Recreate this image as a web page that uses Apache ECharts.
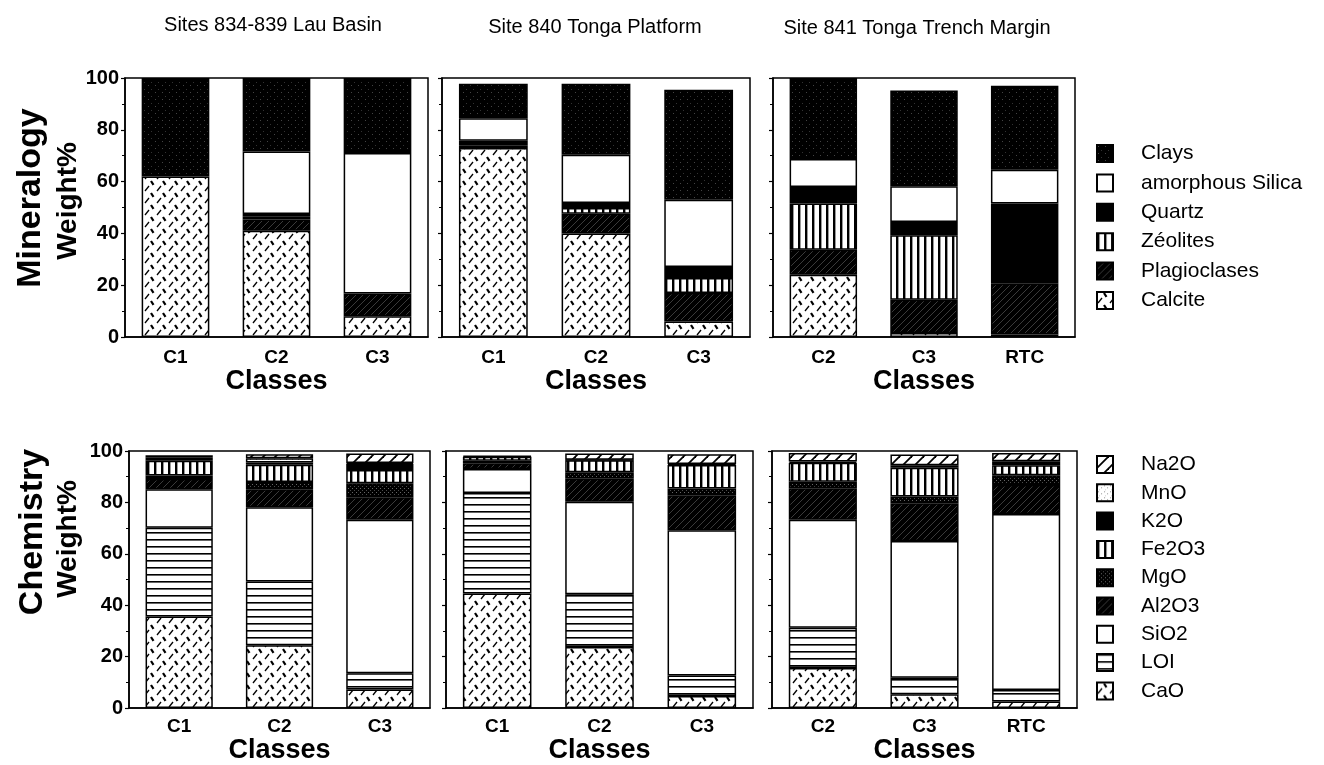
<!DOCTYPE html>
<html>
<head>
<meta charset="utf-8">
<script src="https://cdn.jsdelivr.net/npm/echarts@6/dist/echarts.min.js"></script>
<style>
  html, body { margin: 0; padding: 0; background: #fff; }
  #chart { width: 1324px; height: 765px; }
</style>
</head>
<body>
<div id="chart"></div>
<script>
// Site headings, one per column of panels
const siteTitles = ['Sites 834-839 Lau Basin', 'Site 840 Tonga Platform', 'Site 841 Tonga Trench Margin'];

// Sediment classes sampled at each site
const lauClasses = ['C1', 'C2', 'C3'];
const platformClasses = ['C1', 'C2', 'C3'];
const trenchClasses = ['C2', 'C3', 'RTC'];

// Stack order, bottom to top
const mineralNames = ['Calcite', 'Plagioclases', 'Zéolites', 'Quartz', 'amorphous Silica', 'Clays'];
const oxideNames = ['CaO', 'LOI', 'SiO2', 'Al2O3', 'MgO', 'Fe2O3', 'K2O', 'MnO', 'Na2O'];

// Y axis: weight percent
const weightMax = 100;
const weightStep = 20;

// Mineralogy, weight % — rows follow mineralNames, columns follow the class lists
const lauMineralogy = [
  [62, 41, 8],
  [0, 4.4, 8.8],
  [0, 1, 0],
  [0, 1.1, 0],
  [0, 24.1, 54.2],
  [38, 28.4, 29]
];
const platformMineralogy = [
  [73, 40, 6],
  [1, 7.6, 11],
  [0, 2.2, 5.8],
  [1.8, 1.9, 4.2],
  [8.7, 18.7, 26],
  [13.3, 27.4, 42.5]
];
const trenchMineralogy = [
  [24, 1.5, 1],
  [9.7, 12.9, 19.6],
  [17.8, 24.9, 0],
  [6.4, 5.1, 30.9],
  [10.8, 13.8, 13.1],
  [31.3, 37, 32.4]
];

// Chemistry, weight % — rows follow oxideNames, columns follow the class lists
const lauChemistry = [
  [35.6, 24.4, 7.2],
  [34.5, 24.8, 6.4],
  [15, 28.9, 59.7],
  [4, 7, 8.7],
  [1.4, 2.8, 5.5],
  [5.7, 6.8, 5.1],
  [0, 0.8, 2.4],
  [1.2, 1.7, 0.3],
  [0.9, 1.5, 3.7]
];
const platformChemistry = [
  [44.6, 23.8, 4.7],
  [39.1, 20.5, 8],
  [9.3, 36, 56.5],
  [2.2, 8.9, 13.6],
  [1, 2.5, 2.6],
  [1.6, 4.7, 9.2],
  [0.3, 0, 0.3],
  [0, 0.2, 0],
  [0, 2.4, 3.8]
];
const trenchChemistry = [
  [15.6, 5.4, 2.6],
  [15.7, 6.4, 4.4],
  [42, 53.2, 68.5],
  [12.2, 14.7, 11.3],
  [2.5, 2.6, 3.8],
  [7.4, 11.2, 3.9],
  [0.5, 1, 1.5],
  [0, 0, 0],
  [3.3, 4.1, 3.2]
];

// ---- fill patterns (black & white print style) ----
function tile(w, h, bg, paint) {
  const c = document.createElement('canvas');
  c.width = w; c.height = h;
  const ctx = c.getContext('2d');
  ctx.fillStyle = bg;
  ctx.fillRect(0, 0, w, h);
  ctx.strokeStyle = '#000';
  ctx.fillStyle = '#000';
  if (paint) paint(ctx, w, h);
  return { image: c, repeat: 'repeat' };
}
function seg(ctx, x1, y1, x2, y2, lw, color) {
  ctx.beginPath();
  ctx.lineWidth = lw;
  if (color) ctx.strokeStyle = color;
  ctx.moveTo(x1, y1); ctx.lineTo(x2, y2);
  ctx.stroke();
}
function diag(ctx, w, lw, color) {
  // "/" lines that join seamlessly across tiles
  seg(ctx, -1, w + 1, w + 1, -1, lw, color);
  seg(ctx, -1, 1, 1, -1, lw, color);
  seg(ctx, w - 1, w + 1, w + 1, w - 1, lw, color);
}
const fills = {
  calcite: tile(12, 12, '#fff', ctx => {
    seg(ctx, 1, 11, 5, 6, 1.3);
    seg(ctx, 7, 1, 9.5, 4.8, 2.2);
  }),
  plag: tile(7, 7, '#000', (ctx, w) => diag(ctx, w, 0.8, '#4a4a4a')),
  stripes: tile(7, 7, '#fff', ctx => ctx.fillRect(0, 0, 2.4, 7)),
  black: '#000',
  white: '#fff',
  clay: tile(7, 7, '#000', ctx => {
    ctx.fillStyle = '#444'; ctx.fillRect(1, 1, 1, 1);
    ctx.fillStyle = '#333'; ctx.fillRect(4, 5, 1, 1);
  }),
  loi: tile(8, 7, '#fff', ctx => ctx.fillRect(0, 0, 8, 1.6)),
  mgo: tile(4, 4, '#000', ctx => {
    ctx.fillStyle = '#666'; ctx.fillRect(0, 0, 1, 1);
    ctx.fillStyle = '#4a4a4a'; ctx.fillRect(2, 2, 1, 1);
  }),
  mno: tile(6, 6, '#fff', ctx => {
    ctx.fillStyle = '#999'; ctx.fillRect(1, 1, 1, 1); ctx.fillRect(4, 3, 1, 1);
    ctx.fillStyle = '#ccc'; ctx.fillRect(2, 5, 1, 1);
  }),
  na2o: tile(12, 12, '#fff', (ctx, w) => diag(ctx, w, 1.8, '#000'))
};
const mineralFills = [fills.calcite, fills.plag, fills.stripes, fills.black, fills.white, fills.clay];
const oxideFills = [fills.calcite, fills.loi, fills.white, fills.plag, fills.mgo, fills.stripes, fills.black, fills.mno, fills.na2o];

// ---- layout ----
const FONT = '"Liberation Sans", Arial, Helvetica, sans-serif';
const panels = [
  { grid: { left: 125, top: 78, width: 303, height: 259 }, classes: lauClasses, values: lauMineralogy, names: mineralNames, fills: mineralFills, labels: true, labelMargin: 11, nameGap: 30 },
  { grid: { left: 442, top: 78, width: 308, height: 259 }, classes: platformClasses, values: platformMineralogy, names: mineralNames, fills: mineralFills, labels: false, labelMargin: 11, nameGap: 30 },
  { grid: { left: 773, top: 78, width: 302, height: 259 }, classes: trenchClasses, values: trenchMineralogy, names: mineralNames, fills: mineralFills, labels: false, labelMargin: 11, nameGap: 30 },
  { grid: { left: 129, top: 451, width: 301, height: 261 }, classes: lauClasses, values: lauChemistry, names: oxideNames, fills: oxideFills, labels: true, labelMargin: 9, nameGap: 26 },
  { grid: { left: 446, top: 451, width: 307, height: 261 }, classes: platformClasses, values: platformChemistry, names: oxideNames, fills: oxideFills, labels: false, labelMargin: 9, nameGap: 26 },
  { grid: { left: 772, top: 451, width: 305, height: 261 }, classes: trenchClasses, values: trenchChemistry, names: oxideNames, fills: oxideFills, labels: false, labelMargin: 9, nameGap: 26 }
];

const grid = [], xAxis = [], yAxis = [], series = [];
panels.forEach((p, i) => {
  grid.push(Object.assign({ show: true, borderColor: '#000', borderWidth: 1.5, backgroundColor: 'transparent' }, p.grid));
  xAxis.push({
    type: 'category', gridIndex: i, data: p.classes,
    axisLine: { lineStyle: { color: '#000', width: 1.5 } },
    axisTick: { show: false },
    axisLabel: { color: '#000', fontFamily: FONT, fontWeight: 'bold', fontSize: 19, margin: p.labelMargin },
    name: 'Classes', nameLocation: 'middle', nameGap: p.nameGap,
    nameTextStyle: { color: '#000', fontFamily: FONT, fontWeight: 'bold', fontSize: 27 }
  });
  yAxis.push({
    type: 'value', gridIndex: i, min: 0, max: weightMax, interval: weightStep,
    axisLine: { show: true, lineStyle: { color: '#000', width: 1.5 } },
    axisTick: { show: true, length: 4, lineStyle: { color: '#000', width: 1.2 } },
    minorTick: { show: true, splitNumber: 2, length: 3, lineStyle: { color: '#000', width: 1 } },
    splitLine: { show: false },
    axisLabel: { show: p.labels, color: '#000', fontFamily: FONT, fontWeight: 'bold', fontSize: 20, margin: 6 }
  });
  p.names.forEach((name, k) => {
    series.push({
      type: 'bar', name: name, xAxisIndex: i, yAxisIndex: i, stack: 'panel' + i,
      barWidth: '67%',
      data: p.values[k].map(v => (v === 0 ? null : v)),
      itemStyle: { color: p.fills[k], borderColor: '#000', borderWidth: 1.5 },
      emphasis: { disabled: true }
    });
  });
});

function text(x, y, str, size, weight, rotate) {
  return {
    type: 'text', x: x, y: y, rotation: rotate ? Math.PI / 2 : 0,
    style: { text: str, fill: '#000', font: weight + ' ' + size + 'px ' + FONT, textAlign: 'center', textVerticalAlign: 'middle', align: 'center', verticalAlign: 'middle' }
  };
}

const legendText = { color: '#000', fontFamily: FONT, fontSize: 21, padding: [0, 0, 0, 23] };
const option = {
  animation: false,
  backgroundColor: '#fff',
  grid, xAxis, yAxis, series,
  legend: [
    {
      data: mineralNames.slice().reverse(), orient: 'vertical', left: 1096, top: 143, padding: 0,
      itemWidth: 16, itemHeight: 17, itemGap: 8.4, icon: 'rect',
      textStyle: legendText, selectedMode: false
    },
    {
      data: oxideNames.slice().reverse(), orient: 'vertical', left: 1096, top: 454, padding: 0,
      itemWidth: 16, itemHeight: 17, itemGap: 7.3, icon: 'rect',
      textStyle: legendText, selectedMode: false
    }
  ],
  graphic: [
    text(273, 25, siteTitles[0], 20, 'normal'),
    text(595, 27, siteTitles[1], 20, 'normal'),
    text(917, 28, siteTitles[2], 20, 'normal'),
    text(31, 198, 'Mineralogy', 34, 'bold', true),
    text(68, 201, 'Weight%', 28, 'bold', true),
    text(33, 532, 'Chemistry', 34, 'bold', true),
    text(68, 539, 'Weight%', 28, 'bold', true)
  ]
};

const chart = echarts.init(document.getElementById('chart'), null, { renderer: 'canvas' });
chart.setOption(option);
</script>
</body>
</html>
